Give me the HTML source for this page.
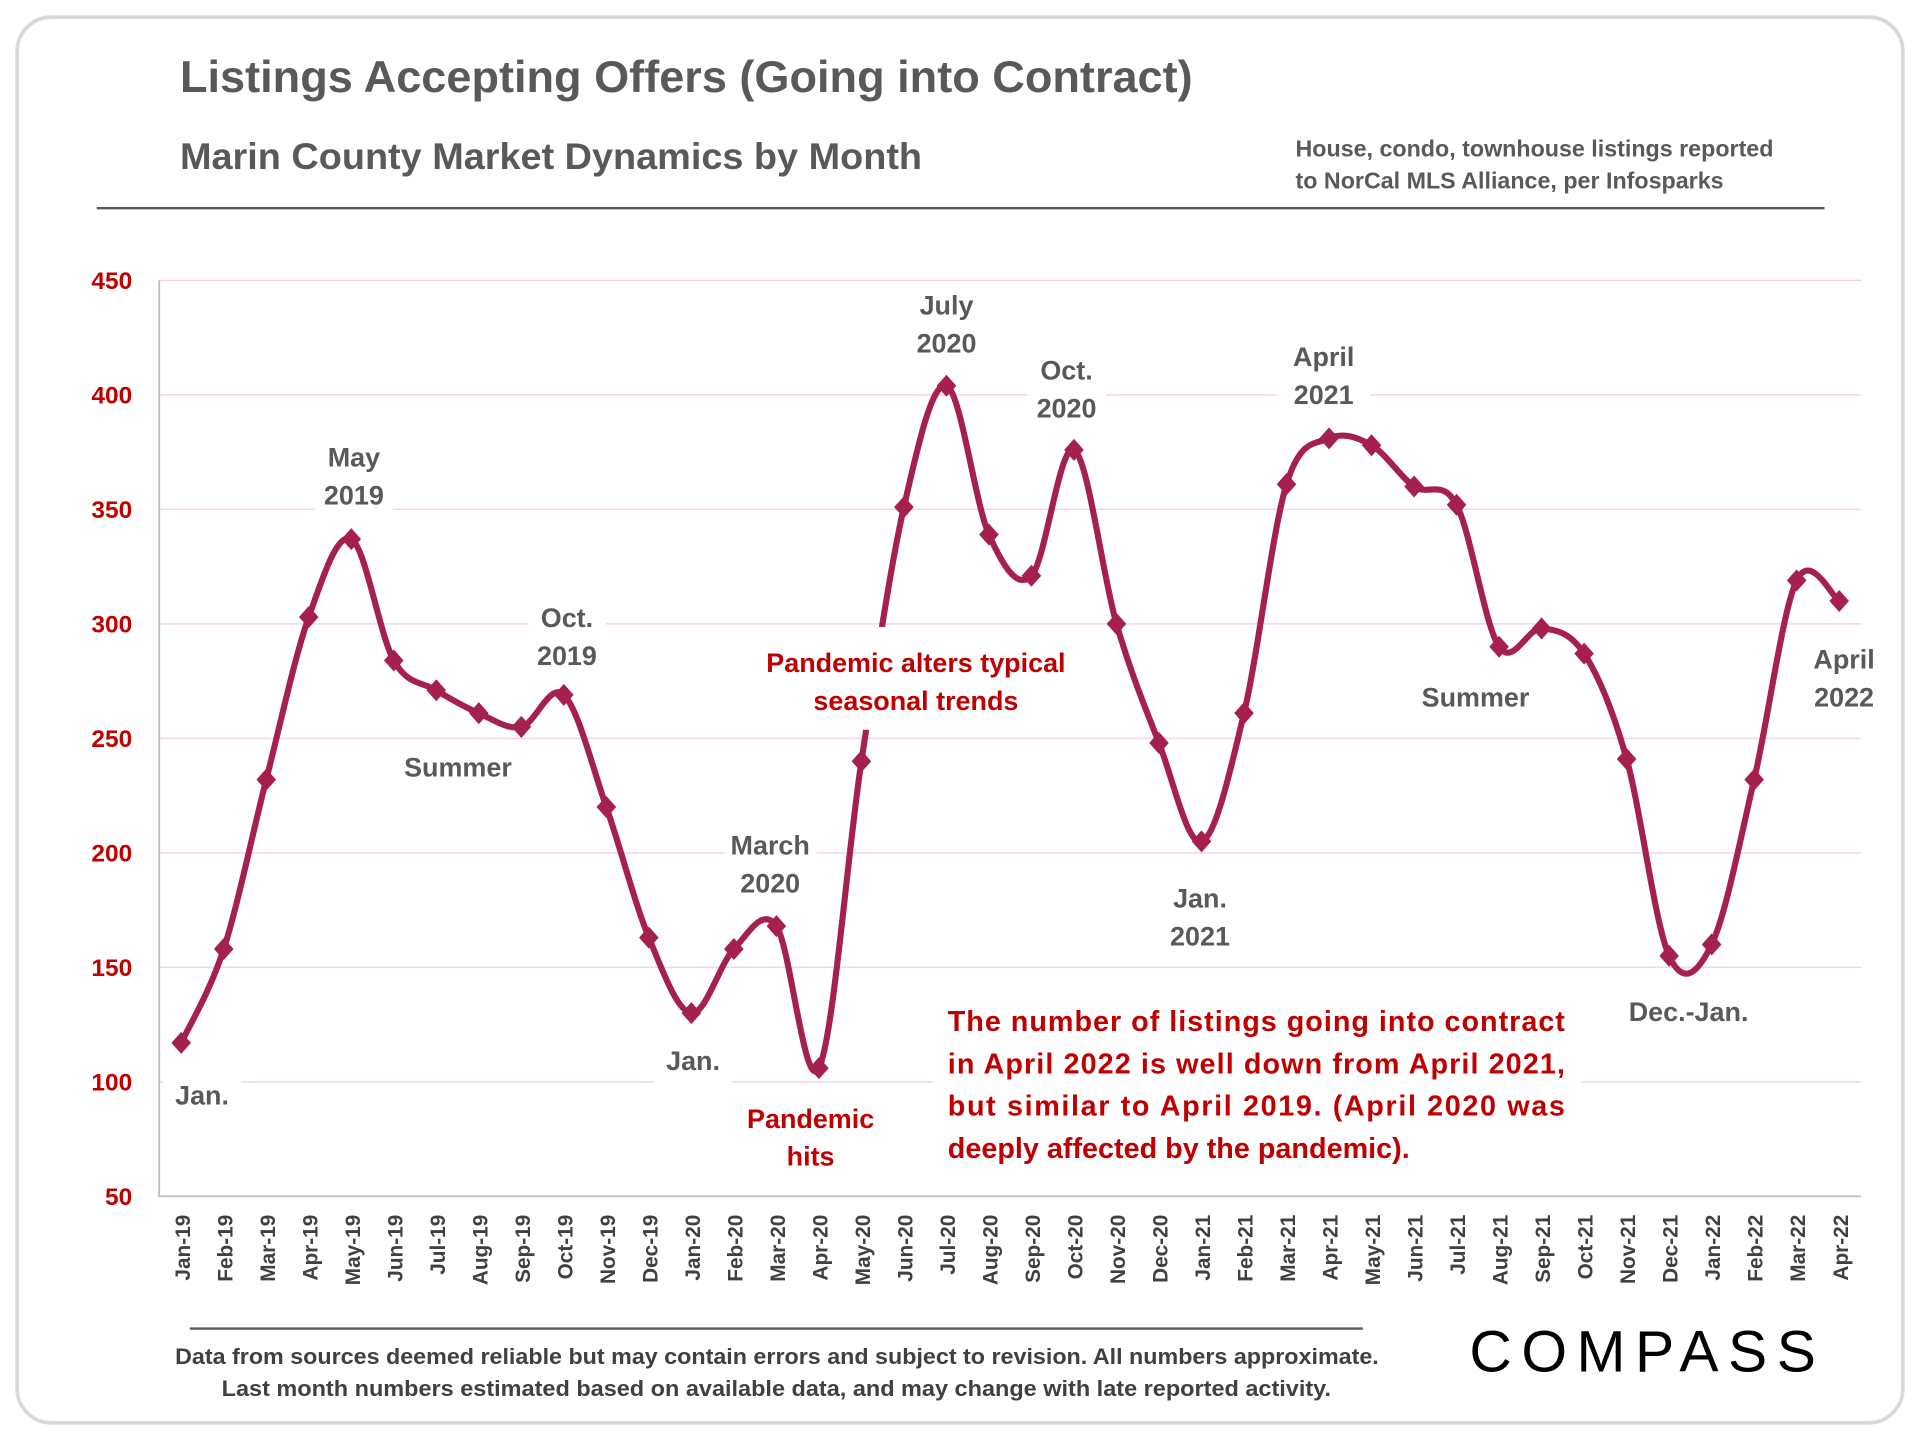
<!DOCTYPE html>
<html><head><meta charset="utf-8"><style>
html,body{margin:0;padding:0;background:#fff;}
svg{display:block;font-family:"Liberation Sans",sans-serif;}
</style></head><body>
<svg id="chart" width="1920" height="1440" viewBox="0 0 1568 1176" xmlns="http://www.w3.org/2000/svg">
<rect x="14" y="14" width="1540" height="1148" rx="28" fill="#fff" stroke="#d9d9d9" stroke-width="3"/>
<text x="147" y="75" font-size="36" font-weight="bold" fill="#595959" textLength="827" lengthAdjust="spacingAndGlyphs">Listings Accepting Offers (Going into Contract)</text>
<text x="147" y="138" font-size="30" font-weight="bold" fill="#595959" textLength="606" lengthAdjust="spacingAndGlyphs">Marin County Market Dynamics by Month</text>
<text x="1058" y="128" font-size="19" font-weight="bold" fill="#595959">House, condo, townhouse listings reported</text>
<text x="1058" y="154" font-size="19" font-weight="bold" fill="#595959">to NorCal MLS Alliance, per Infosparks</text>
<line x1="79" y1="170" x2="1490" y2="170" stroke="#595959" stroke-width="2"/>
<g id="grid"></g>
<g id="annos"></g>
<g id="marks"></g>
<g id="toplayer"></g>
<line x1="155" y1="1085" x2="1113" y2="1085" stroke="#595959" stroke-width="2"/>
<text x="143" y="1114" font-size="18" font-weight="bold" fill="#404040" textLength="983" lengthAdjust="spacingAndGlyphs">Data from sources deemed reliable but may contain errors and subject to revision. All numbers approximate.</text>
<text x="181" y="1140" font-size="18" font-weight="bold" fill="#404040" textLength="906" lengthAdjust="spacingAndGlyphs">Last month numbers estimated based on available data, and may change with late reported activity.</text>
<text x="1200" y="1120" font-size="48" fill="#000" textLength="283" lengthAdjust="spacing">COMPASS</text>
</svg>
<script>
const categories=["Jan-19","Feb-19","Mar-19","Apr-19","May-19","Jun-19","Jul-19","Aug-19","Sep-19","Oct-19","Nov-19","Dec-19","Jan-20","Feb-20","Mar-20","Apr-20","May-20","Jun-20","Jul-20","Aug-20","Sep-20","Oct-20","Nov-20","Dec-20","Jan-21","Feb-21","Mar-21","Apr-21","May-21","Jun-21","Jul-21","Aug-21","Sep-21","Oct-21","Nov-21","Dec-21","Jan-22","Feb-22","Mar-22","Apr-22"];
const values=[117,158,232,303,337,284,271,261,255,269,220,163,130,158,168,106,240,351,404,339,321,376,300,248,205,261,361,381,378,360,352,290,298,287,241,155,160,232,319,310];
const yTicks=[50,100,150,200,250,300,350,400,450];
const NS="http://www.w3.org/2000/svg";
const X0=148,DX=(1502-148)/39,Y0=977,Y1=229;
const xs=i=>X0+i*DX;
const ys=v=>Y0-(v-50)/400*(Y0-Y1);
function mk(tag,attrs,parent,txt){const e=document.createElementNS(NS,tag);for(const k in attrs)e.setAttribute(k,attrs[k]);if(txt!==undefined)e.textContent=txt;parent.appendChild(e);return e;}
const grid=document.getElementById('grid'),annos=document.getElementById('annos'),marks=document.getElementById('marks'),topLayer=document.getElementById('toplayer');
yTicks.forEach(t=>{
  if(t>50){const l=mk('line',{x1:130,x2:1520,y1:ys(t),y2:ys(t),stroke:'#f2d7dc','stroke-width':1.2},grid);
  
  }
  const tx=mk('text',{x:108,y:ys(t)+7,'font-size':20,'font-weight':'bold',fill:'#c00000','text-anchor':'end'},grid,t);
  
  
});
const ax=mk('path',{d:`M130 ${Y1} V${Y0} H1520`,fill:'none',stroke:'#bfbfbf','stroke-width':1.5},grid);


categories.forEach((c,i)=>{
  const t=mk('text',{transform:`translate(${xs(i)+7},992) rotate(-90)`,'font-size':17,'font-weight':'bold',fill:'#404040','text-anchor':'end'},grid,c);
  
  
});
const notes=[[165,902,["Jan."],'#595959'],[289,381,["May","2019"],'#595959'],[374,634,["Summer"],'#595959'],[463,512,["Oct.","2019"],'#595959'],[566,874,["Jan."],'#595959'],[629,698,["March","2020"],'#595959'],[662,921,["Pandemic","hits"],'#c00000'],[773,257,["July","2020"],'#595959'],[871,310,["Oct.","2020"],'#595959'],[980,741,["Jan.","2021"],'#595959'],[1081,299,["April","2021"],'#595959'],[1205,577,["Summer"],'#595959'],[1379,834,["Dec.-Jan."],'#595959'],[1506,546,["April","2022"],'#595959']];
notes.forEach(n=>{
  const g=mk('g',{},annos);
  
  
  const w=Math.max(...n[2].map(s=>s.length))*12+16;
  mk('rect',{x:n[0]-w/2,y:n[1]-26,width:w,height:n[2].length*31+10,fill:'#fff'},g);
  n[2].forEach((s,k)=>mk('text',{x:n[0],y:n[1]+k*31,'font-size':22,'font-weight':'bold',fill:n[3],'text-anchor':'middle'},g,s));
});
const pg=mk('g',{},topLayer);


mk('rect',{x:612,y:512,width:272,height:84,fill:'#fff'},pg);
mk('text',{x:748,y:549,'font-size':22,'font-weight':'bold',fill:'#c00000','text-anchor':'middle'},pg,'Pandemic alters typical');
mk('text',{x:748,y:580,'font-size':22,'font-weight':'bold',fill:'#c00000','text-anchor':'middle'},pg,'seasonal trends');
const cg=mk('g',{},annos);


mk('rect',{x:762,y:812,width:530,height:140,fill:'#fff'},cg);
["The number of listings going into contract","in April 2022 is well down from April 2021,","but similar to April 2019. (April 2020 was","deeply affected by the pandemic)."].forEach((s,k)=>{
  const a={x:774,y:842+k*34.5,'font-size':23.5,'font-weight':'bold',fill:'#c00000'};
  if(k<3){a.textLength=504;a.lengthAdjust='spacing';}
  mk('text',a,cg,s);
});
const P=values.map((v,i)=>[xs(i),ys(v)]);
let d=`M${P[0][0]} ${P[0][1]}`;
for(let i=0;i<P.length-1;i++){
  const p0=P[i-1]||P[i],p1=P[i],p2=P[i+1],p3=P[i+2]||p2;
  const c1=[p1[0]+(p2[0]-p0[0])/6,p1[1]+(p2[1]-p0[1])/6];
  const c2=[p2[0]-(p3[0]-p1[0])/6,p2[1]-(p3[1]-p1[1])/6];
  d+=` C${c1[0]} ${c1[1]} ${c2[0]} ${c2[1]} ${p2[0]} ${p2[1]}`;
}
const line=mk('path',{d,fill:'none',stroke:'#a5204a','stroke-width':5,'stroke-linejoin':'round'},marks);


P.forEach((p,i)=>{
  const m=mk('path',{d:`M${p[0]} ${p[1]-9} L${p[0]+8} ${p[1]} L${p[0]} ${p[1]+9} L${p[0]-8} ${p[1]} Z`,fill:'#a5204a'},marks);
  
  
});
</script>
</body></html>
